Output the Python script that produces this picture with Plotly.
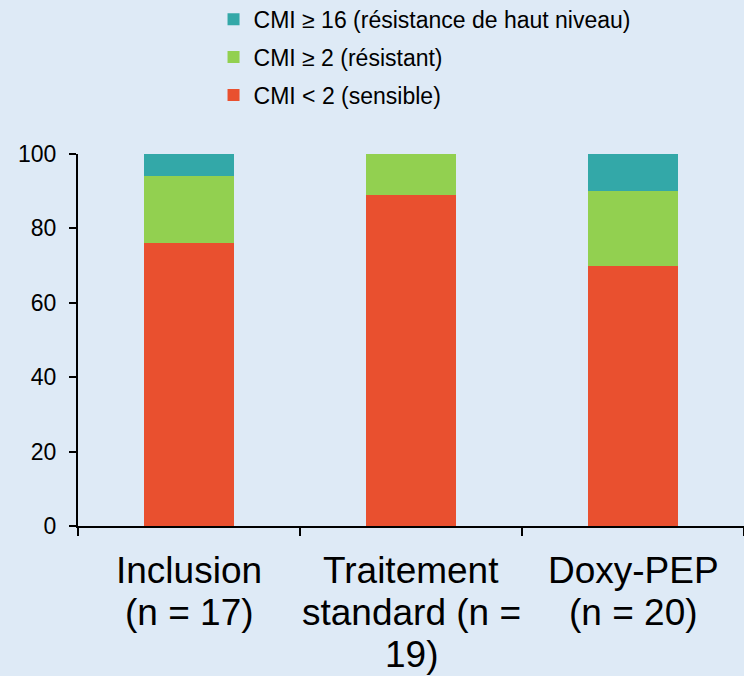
import plotly.graph_objects as go

categories = ["Inclusion", "Traitement standard", "Doxy-PEP"]
label_lines = [["Inclusion", "(n = 17)"],
               ["Traitement", "standard (n =", "19)"],
               ["Doxy-PEP", "(n = 20)"]]
sensible = [76, 89, 70]
resistant = [18, 11, 20]
haut_niveau = [6, 0, 10]
series_names = ["CMI < 2 (sensible)", "CMI ≥ 2 (résistant)",
                "CMI ≥ 16 (résistance de haut niveau)"]
colors = ["#E9502F", "#92D050", "#33A8A8"]
yticks = [0, 20, 40, 60, 80, 100]

FONT = "Liberation Sans, Arial, sans-serif"
BG = "#DEEAF6"

fig = go.Figure()
for i, (name, vals, col) in enumerate(zip(series_names, [sensible, resistant, haut_niveau], colors)):
    fig.add_trace(go.Bar(
        x=categories, y=vals, name=name, marker_color=col,
        marker_line_width=0, width=0.405, legendgroup=f"g{i}",
        legendrank=10 - i,
    ))

annotations = []
for cat, lines in zip(categories, label_lines):
    for j, line in enumerate(lines):
        annotations.append(dict(
            x=cat, xref="x", y=0, yref="paper", yanchor="top", xanchor="center",
            yshift=-22 - 42 * j, text=line, showarrow=False,
            font=dict(family=FONT, size=37, color="#000000"),
        ))

fig.update_layout(
    width=744, height=676,
    margin=dict(l=78, r=0, t=154, b=150, autoexpand=False),
    paper_bgcolor=BG, plot_bgcolor=BG,
    barmode="stack",
    font=dict(family=FONT, size=22, color="#000000"),
    showlegend=True,
    legend=dict(
        traceorder="grouped", tracegroupgap=5,
        xref="container", yref="paper",
        x=0.287, y=1.42, xanchor="left", yanchor="top",
        font=dict(family=FONT, size=23, color="#000000"),
        bgcolor="rgba(0,0,0,0)", itemwidth=30,
    ),
    annotations=annotations,
    xaxis=dict(
        range=[-0.5, 2.5], showticklabels=False, tickson="boundaries",
        ticks="outside", ticklen=8, tickwidth=2, tickcolor="#000000",
        showline=True, linecolor="#000000", linewidth=2, showgrid=False,
        zeroline=False,
    ),
    yaxis=dict(
        range=[0, 100], tickvals=yticks, ticks="outside", ticklen=7,
        tickwidth=2, tickcolor="#000000", showline=True, linecolor="#000000",
        linewidth=2, showgrid=False, zeroline=False, ticklabelstandoff=8,
        tickfont=dict(family=FONT, size=23, color="#000000"),
    ),
)

fig.write_html(
    "out.html",
    config={"displayModeBar": False},
    post_script="document.body.style.margin='0';document.body.style.background='" + BG + "';",
)
